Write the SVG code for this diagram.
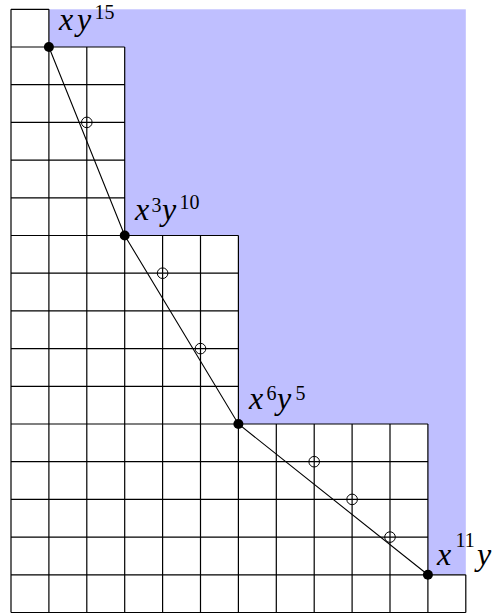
<svg xmlns="http://www.w3.org/2000/svg" width="493" height="615" viewBox="0 0 493 615">
<style>
.grid{fill:none;stroke:#000;stroke-width:1.2}
.edge{fill:none;stroke:#000;stroke-width:1.1}
.dot{fill:#000}
.ring{fill:none;stroke:#000;stroke-width:1}
.m{font-family:"Liberation Serif","Times New Roman",serif;font-style:italic;font-size:32px;fill:#000}
.s{font-family:"Liberation Serif","Times New Roman",serif;font-size:20px;fill:#000}
</style>
<rect width="493" height="615" fill="#fff"/>
<g id="region">
<rect x="48.9" y="9.3" width="416.9" height="565.5" fill="#bfbfff"/>
</g>
<g id="grid">
<polygon points="11,612.5 465.8,612.5 465.8,574.8 427.9,574.8 427.9,424 238.4,424 238.4,235.5 124.7,235.5 124.7,47 48.9,47 48.9,9.3 11,9.3" fill="#fff"/>
<path class="grid" d="M11,612.5V9.3 M48.9,612.5V9.3 M86.8,612.5V47 M124.7,612.5V47 M162.6,612.5V235.5 M200.5,612.5V235.5 M238.4,612.5V235.5 M276.3,612.5V424 M314.2,612.5V424 M352.1,612.5V424 M390,612.5V424 M427.9,612.5V424 M465.8,612.5V574.8
M11,612.5H465.8 M11,574.8H465.8 M11,537.1H427.9 M11,499.4H427.9 M11,461.7H427.9 M11,424H427.9
M11,386.3H238.4 M11,348.6H238.4 M11,310.9H238.4 M11,273.2H238.4 M11,235.5H238.4
M11,197.8H124.7 M11,160.1H124.7 M11,122.4H124.7 M11,84.7H124.7 M11,47H124.7 M11,9.3H48.9"/>
</g>
<g id="connectors">
<polyline class="edge" points="48.9,47 124.7,235.5 238.4,424 427.9,574.8"/>
</g>
<g id="lattice-points">
<circle class="ring" cx="86.8" cy="122.4" r="5.3"/>
<circle class="ring" cx="162.6" cy="273.2" r="5.3"/>
<circle class="ring" cx="200.5" cy="348.6" r="5.3"/>
<circle class="ring" cx="314.2" cy="461.7" r="5.3"/>
<circle class="ring" cx="352.1" cy="499.4" r="5.3"/>
<circle class="ring" cx="390" cy="537.1" r="5.3"/>
</g>
<g id="v1">
<circle class="dot" cx="48.9" cy="47" r="5"/>
<text class="m" x="59" y="29.5">x</text><text class="m" x="77" y="29.5">y</text><text class="s" x="94.5" y="18.5">15</text>
</g>
<g id="v2">
<circle class="dot" cx="124.7" cy="235.5" r="5"/>
<text class="m" x="135" y="219.5">x</text><text class="s" x="151.5" y="212">3</text><text class="m" x="162" y="219.5">y</text><text class="s" x="179.5" y="208.5">10</text>
</g>
<g id="v3">
<circle class="dot" cx="238.4" cy="424" r="5"/>
<text class="m" x="249" y="408.5">x</text><text class="s" x="266.5" y="400">6</text><text class="m" x="277" y="408.5">y</text><text class="s" x="295.5" y="400">5</text>
</g>
<g id="v4">
<circle class="dot" cx="427.9" cy="574.8" r="5"/>
<text class="m" x="437" y="564.5">x</text><text class="s" x="455.5" y="547">11</text><text class="m" x="477" y="564.5">y</text>
</g>
</svg>
